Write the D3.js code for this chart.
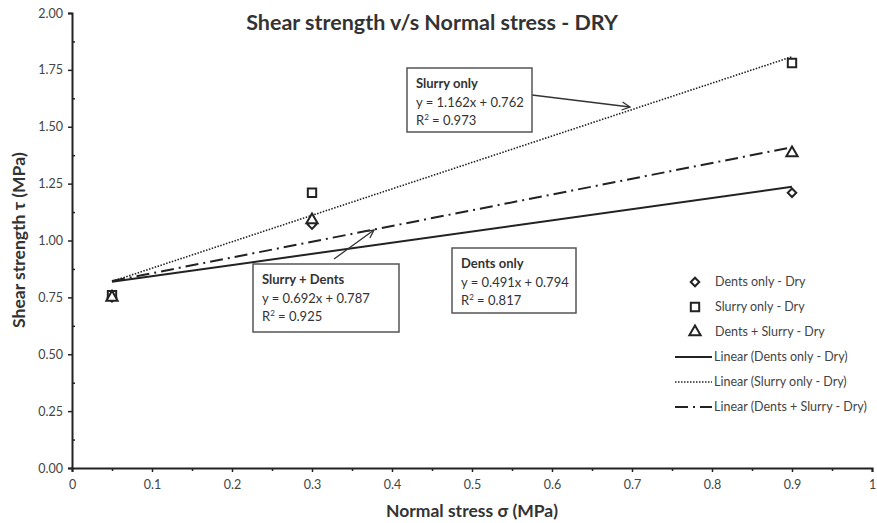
<!DOCTYPE html>
<html>
<head>
<meta charset="utf-8">
<script src="https://cdn.jsdelivr.net/npm/d3@7"></script>
<style>
  body { margin: 0; background: #fff; }
  svg { font-family: Lato, "Open Sans", sans-serif; }
</style>
</head>
<body>
<div id="chart"></div>
<script>
// x positions (normal stress, MPa)
const normalStress = [0.05, 0.3, 0.9];
// measured shear strength (MPa)
const dentsOnly = [0.75, 1.07, 1.21];
const slurryOnly = [0.76, 1.21, 1.78];
const dentsSlurry = [0.75, 1.09, 1.385];
// trend line coefficients, as printed on the chart
const slopes = [0.491, 1.162, 0.692];
const intercepts = [0.794, 0.762, 0.787];
const xTicks = [0, 0.1, 0.2, 0.3, 0.4, 0.5, 0.6, 0.7, 0.8, 0.9, 1];
const yTicks = [0, 0.25, 0.5, 0.75, 1, 1.25, 1.5, 1.75, 2];
const seriesNames = ["Dents only - Dry", "Slurry only - Dry", "Dents + Slurry - Dry"];
const trendNames = ["Linear (Dents only - Dry)", "Linear (Slurry only - Dry)", "Linear (Dents + Slurry - Dry)"];

const W = 877, H = 523;
const x = d3.scaleLinear().domain([0, 1]).range([72, 872]);
const y = d3.scaleLinear().domain([0, 2]).range([468, 13]);
const ink = "#222", txt = "#444";

const svg = d3.select("#chart").append("svg").attr("width", W).attr("height", H);

// arrow marker (open V)
svg.append("defs").append("marker")
  .attr("id", "arr").attr("viewBox", "0 0 10 10").attr("refX", 9).attr("refY", 5)
  .attr("markerWidth", 10).attr("markerHeight", 10).attr("markerUnits", "userSpaceOnUse")
  .attr("orient", "auto")
  .append("path").attr("d", "M1,1 L9,5 L1,9").attr("fill", "none")
  .attr("stroke", "#333").attr("stroke-width", 1.3);

// axes
svg.append("g").attr("transform", "translate(0,468)")
  .call(d3.axisBottom(x).tickValues(xTicks).tickSize(4).tickPadding(8)
    .tickFormat(d => d === 0 || d === 1 ? d3.format("d")(d) : d3.format(".1f")(d)));
svg.append("g").attr("transform", "translate(0,468)")
  .call(d3.axisBottom(x).tickValues(d3.range(0.05, 1, 0.1)).tickSize(3).tickFormat(""))
  .select(".domain").remove();
svg.append("g").attr("transform", "translate(72,0)")
  .call(d3.axisLeft(y).tickValues(yTicks).tickSize(4).tickPadding(5).tickFormat(d3.format(".2f")));
svg.append("g").attr("transform", "translate(72,0)")
  .call(d3.axisRight(y).tickValues(d3.range(0.125, 2, 0.25)).tickSize(3).tickFormat(""))
  .select(".domain").remove();
svg.selectAll(".domain").attr("stroke", ink).attr("stroke-width", 2);
svg.selectAll(".tick line").attr("stroke", ink).attr("stroke-width", 1.5);
svg.selectAll(".tick text").attr("fill", txt).style("font-size", "12.5px")
  .style("font-family", "Lato, sans-serif");

// title and axis titles
svg.append("text").attr("x", 432).attr("y", 30).attr("text-anchor", "middle")
  .attr("font-weight", "bold").attr("font-size", 21.5).attr("fill", "#333")
  .text("Shear strength v/s Normal stress - DRY");
svg.append("text").attr("x", 472).attr("y", 517).attr("text-anchor", "middle")
  .attr("font-weight", "bold").attr("font-size", 17.5).attr("fill", "#333")
  .text("Normal stress  σ (MPa)");
svg.append("text").attr("transform", "translate(25,240) rotate(-90)").attr("text-anchor", "middle")
  .attr("font-weight", "bold").attr("font-size", 17.5).attr("fill", "#333")
  .text("Shear strength τ  (MPa)");

// trend lines
const dashes = [null, "1.5,1.5", "13,5,2,5"];
const widths = [2, 1.6, 2];
slopes.forEach((m, i) => {
  const xs = [normalStress[0], normalStress[normalStress.length - 1]];
  svg.append("line")
    .attr("x1", x(xs[0])).attr("y1", y(m * xs[0] + intercepts[i]))
    .attr("x2", x(xs[1])).attr("y2", y(m * xs[1] + intercepts[i]))
    .attr("stroke", ink).attr("stroke-width", widths[i])
    .attr("stroke-dasharray", dashes[i]);
});

// marker shapes: diamond is a square turned 45 degrees
const symbols = [d3.symbolSquare, d3.symbolSquare, d3.symbolTriangle];
const sizes = [36, 70, 55];
const turns = [45, 0, 0];
const drawSym = (g, i, cx, cy) => g.append("path")
  .attr("d", d3.symbol(symbols[i], sizes[i])())
  .attr("transform", `translate(${cx},${cy}) rotate(${turns[i]})`)
  .attr("fill", "#fff").attr("stroke", ink).attr("stroke-width", 2);

[dentsOnly, slurryOnly, dentsSlurry].forEach((vals, i) => {
  vals.forEach((v, j) => drawSym(svg, i, x(normalStress[j]), y(v)));
});

// annotation boxes
function note(bx, by, bw, bh, lines) {
  const g = svg.append("g");
  g.append("rect").attr("x", bx).attr("y", by).attr("width", bw).attr("height", bh)
    .attr("fill", "#fff").attr("stroke", "#555").attr("stroke-width", 1.5);
  lines.forEach((t, k) => {
    const tx = g.append("text").attr("x", bx + 9).attr("y", by + 20 + k * 18.5)
      .attr("font-size", 13).attr("fill", "#333")
      .attr("font-weight", k === 0 ? "bold" : "normal");
    if (t.startsWith("R2")) {
      tx.text("R");
      tx.append("tspan").attr("font-size", 8).attr("dy", -5).text("2");
      tx.append("tspan").attr("dy", 5).text(t.slice(2));
    } else tx.text(t);
  });
}
const arrow = (x1, y1, x2, y2) => svg.append("line")
  .attr("x1", x1).attr("y1", y1).attr("x2", x2).attr("y2", y2)
  .attr("stroke", "#333").attr("stroke-width", 1.3).attr("marker-end", "url(#arr)");

arrow(532, 95, 630, 107);
arrow(334, 259, 374, 230);
note(407, 68, 125, 64, ["Slurry only", "y = 1.162x + 0.762", "R2 = 0.973"]);
note(253, 264, 146, 68, ["Slurry  + Dents", "y = 0.692x + 0.787", "R2 = 0.925"]);
note(452, 248, 124, 65, ["Dents only", "y = 0.491x + 0.794", "R2 = 0.817"]);

// legend
const lg = svg.append("g");
const rowY = k => 282 + k * 25;
seriesNames.forEach((n, i) => {
  drawSym(lg, i, 695, rowY(i));
  lg.append("text").attr("x", 715).attr("y", rowY(i) + 4).attr("font-size", 12.5)
    .attr("fill", txt).text(n);
});
trendNames.forEach((n, i) => {
  const ry = rowY(i + 3);
  lg.append("line").attr("x1", 675).attr("x2", 712).attr("y1", ry).attr("y2", ry)
    .attr("stroke", ink).attr("stroke-width", widths[i]).attr("stroke-dasharray", dashes[i]);
  lg.append("text").attr("x", 714).attr("y", ry + 4).attr("font-size", 12.5)
    .attr("fill", txt).text(n);
});
</script>
</body>
</html>
